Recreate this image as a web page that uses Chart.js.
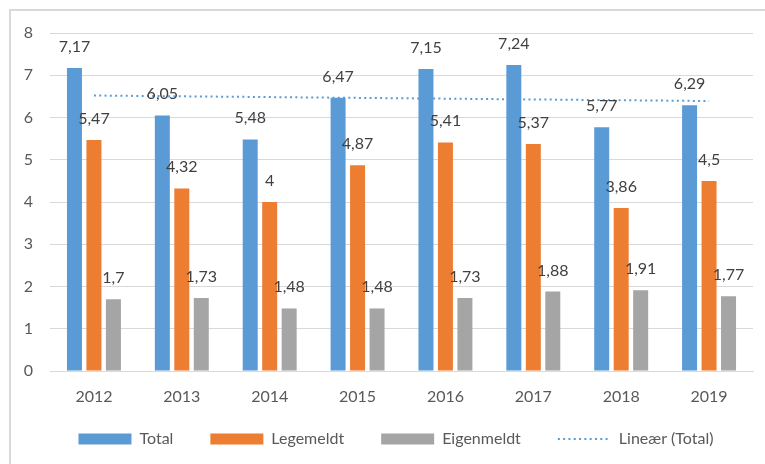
<!DOCTYPE html>
<html>
<head>
<meta charset="utf-8">
<script src="https://cdn.jsdelivr.net/npm/chart.js@4/dist/chart.umd.min.js"></script>
<style>
  body { margin: 0; background: #fff; }
  #frame { position: absolute; left: 9px; top: 9px; width: 800px; height: 500px;
           border-left: 2px solid #d9d9d9; border-top: 2px solid #d9d9d9; }
  #wrap { position: absolute; left: 0; top: 0; width: 765px; height: 464px; }
</style>
</head>
<body>
<div id="frame"></div>
<div id="wrap"><canvas id="chart"></canvas></div>
<script>
const years = ['2012', '2013', '2014', '2015', '2016', '2017', '2018', '2019']
const total = [7.17, 6.05, 5.48, 6.47, 7.15, 7.24, 5.77, 6.29]
const legemeldt = [5.47, 4.32, 4, 4.87, 5.41, 5.37, 3.86, 4.5]
const eigenmeldt = [1.7, 1.73, 1.48, 1.48, 1.73, 1.88, 1.91, 1.77]
// trend line read at its two ends, drawn straight across
const trend = [6.52, null, null, null, null, null, null, 6.39]

const textColor = '#595959'
const font = { family: 'Lato', size: 16 }

const barLabels = {
    id: 'barLabels',
    afterDatasetsDraw(chart) {
        const ctx = chart.ctx
        ctx.save()
        ctx.font = '16px Lato'
        ctx.fillStyle = '#404040'
        ctx.textAlign = 'center'
        ctx.textBaseline = 'alphabetic'
        chart.data.datasets.forEach((ds, i) => {
            if (ds.type === 'line') return
            chart.getDatasetMeta(i).data.forEach((bar, j) => {
                const txt = String(ds.data[j]).replace('.', ',')
                ctx.fillText(txt, bar.x, bar.y - 16)
            })
        })
        ctx.restore()
    }
}

// pull the legend a little closer to the year labels, and a bit to the right
const legendShift = {
    id: 'legendShift',
    afterLayout(chart) {
        chart.legend.top -= 11
        chart.legend.bottom -= 11
        chart.legend.left += 12
        chart.legend.right += 12
    }
}

const ctx = document.getElementById('chart').getContext('2d')

new Chart(ctx, {
    type: 'bar',
    data: {
        labels: years,
        datasets: [{
            label: 'Total',
            data: total,
            backgroundColor: '#5B9BD5',
            order: 0
        }, {
            label: 'Legemeldt',
            data: legemeldt,
            backgroundColor: '#ED7D31',
            order: 0
        }, {
            label: 'Eigenmeldt',
            data: eigenmeldt,
            backgroundColor: '#A5A5A5',
            order: 0
        }, {
            type: 'line',
            label: 'Lineær (Total)',
            data: trend,
            spanGaps: true,
            borderColor: '#5B9BD5',
            borderWidth: 2,
            borderDash: [2, 3.3],
            pointRadius: 0,
            fill: false,
            order: 1
        }]
    },
    options: {
        responsive: true,
        maintainAspectRatio: false,
        animation: false,
        categoryPercentage: 0.665,
        barPercentage: 0.77,
        layout: { padding: { left: 15, right: 12, top: 33, bottom: -4 } },
        plugins: {
            tooltip: { enabled: false },
            legend: {
                position: 'bottom',
                labels: {
                    color: textColor,
                    font: font,
                    usePointStyle: true,
                    pointStyleWidth: 53,
                    boxWidth: 53,
                    boxHeight: 11,
                    padding: 37,
                    generateLabels(chart) {
                        const items = Chart.defaults.plugins.legend.labels.generateLabels(chart)
                        items.forEach(it => {
                            if (it.datasetIndex === 3) {
                                it.pointStyle = 'line'
                                it.lineWidth = 2
                                it.lineDash = [2, 3.3]
                                it.strokeStyle = '#5B9BD5'
                            } else {
                                it.pointStyle = 'rect'
                                it.lineWidth = 0
                            }
                        })
                        return items
                    }
                }
            }
        },
        scales: {
            x: {
                grid: { display: false },
                border: { color: '#d9d9d9', width: 1 },
                ticks: { color: textColor, font: font, padding: 8 },
                afterFit(scale) { scale.height = 34 }
            },
            y: {
                min: 0,
                max: 8,
                border: { display: false },
                grid: { color: '#d9d9d9', lineWidth: 1, drawTicks: false },
                ticks: { color: textColor, font: font, stepSize: 1, padding: 17 },
                afterFit(scale) { scale.width = 35 }
            }
        }
    },
    plugins: [barLabels, legendShift]
})
</script>
</body>
</html>
